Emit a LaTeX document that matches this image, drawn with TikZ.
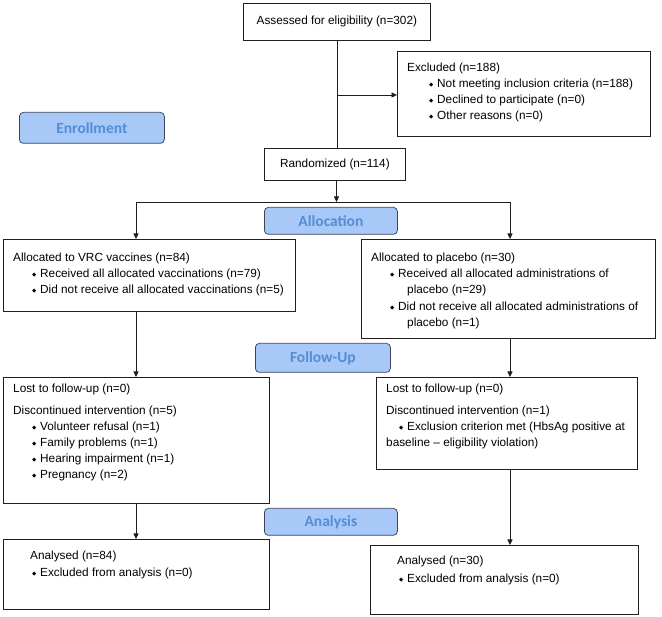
\documentclass[tikz,border=0pt]{standalone}
\usepackage{fontspec}
\setmainfont{Liberation Sans}
\newfontfamily\calibri{Carlito}
\newfontfamily\dvs{DejaVu Sans}
\usetikzlibrary{arrows.meta}
\definecolor{phasefill}{RGB}{168,200,248}
\definecolor{phasetext}{RGB}{84,141,212}
\definecolor{phaseline}{RGB}{60,70,90}
\definecolor{linec}{RGB}{30,30,30}
\newcommand\bul{\makebox[8pt][l]{\raisebox{0.25ex}{\dvs\fontsize{5.5}{6}\selectfont ◆}}}
\begin{document}
\begin{tikzpicture}[x=1pt,y=-1pt,
  box/.style={draw=linec, line width=0.75pt, rectangle, inner sep=0pt, anchor=north west, font=\fontsize{11.8}{14}\selectfont},
  phase/.style={draw=phaseline, fill=phasefill, line width=0.75pt, rounded corners=4pt, rectangle, anchor=north west, inner sep=0pt, font=\calibri\bfseries\fontsize{15.5}{18}\selectfont, text=phasetext},
  txt/.style={anchor=base west, inner sep=0pt, font=\fontsize{11.8}{14}\selectfont},
  arr/.style={draw=linec, line width=0.75pt, -{Triangle[length=5.5pt,width=5pt]}},
  conn/.style={draw=linec, line width=0.75pt}]
\useasboundingbox (0,0) rectangle (662,617);

% phase labels
\node[phase, minimum width=145pt, minimum height=31pt] (enr) at (19,112) {Enrollment};
\node[phase, minimum width=133pt, minimum height=27pt] (alc) at (264,207) {Allocation};
\node[phase, minimum width=135pt, minimum height=29pt] (fup) at (255,343) {Follow-Up};
\node[phase, minimum width=133pt, minimum height=27pt] (ana) at (264,508) {Analysis};

% boxes
\node[box, minimum width=187pt, minimum height=37pt] (assess) at (243,3) {Assessed for eligibility (n=302)};
\node[box, minimum width=253pt, minimum height=85pt] (excl) at (397,51) {};
\node[box, minimum width=141pt, minimum height=32pt] (rand) at (264,148) {Randomized (n=114)};
\node[box, minimum width=292pt, minimum height=72pt] (lalloc) at (3,239) {};
\node[box, minimum width=294pt, minimum height=99pt] (ralloc) at (361,239) {};
\node[box, minimum width=266pt, minimum height=126pt] (lfol) at (3,377) {};
\node[box, minimum width=261pt, minimum height=92pt] (rfol) at (376,377) {};
\node[box, minimum width=266pt, minimum height=70pt] (lana) at (3,539) {};
\node[box, minimum width=268pt, minimum height=69pt] (rana) at (370,545) {};

% excluded text
\node[txt] (ex0) at (407,72) {Excluded (n=188)};
\node[txt] (ex1) at (429,88) {\bul Not meeting inclusion criteria (n=188)};
\node[txt] (ex2) at (429,104) {\bul Declined to participate (n=0)};
\node[txt] (ex3) at (429,120) {\bul Other reasons (n=0)};

% allocation texts
\node[txt] (la0) at (13,262) {Allocated to VRC vaccines (n=84)};
\node[txt] (la1) at (32,278) {\bul Received all allocated vaccinations (n=79)};
\node[txt] (la2) at (32,294) {\bul Did not receive all allocated vaccinations (n=5)};

\node[txt] (ra0) at (371,262) {Allocated to placebo (n=30)};
\node[txt] (ra1) at (390,278) {\bul Received all allocated administrations of};
\node[txt] (ra2) at (407,294) {placebo (n=29)};
\node[txt] (ra3) at (390,311) {\bul Did not receive all allocated administrations of};
\node[txt] (ra4) at (407,327) {placebo (n=1)};

% follow-up texts
\node[txt] (lf0) at (13,393) {Lost to follow-up (n=0)};
\node[txt] (lf1) at (13,415) {Discontinued intervention (n=5)};
\node[txt] (lf2) at (32,431) {\bul Volunteer refusal (n=1)};
\node[txt] (lf3) at (32,447) {\bul Family problems (n=1)};
\node[txt] (lf4) at (32,463) {\bul Hearing impairment (n=1)};
\node[txt] (lf5) at (32,479) {\bul Pregnancy (n=2)};

\node[txt] (rf0) at (386,393) {Lost to follow-up (n=0)};
\node[txt] (rf1) at (386,415) {Discontinued intervention (n=1)};
\node[txt] (rf2) at (399,431) {\bul Exclusion criterion met (HbsAg positive at};
\node[txt] (rf3) at (386,447) {baseline -- eligibility violation)};

% analysis texts
\node[txt] (ln0) at (30,560) {Analysed (n=84)};
\node[txt] (ln1) at (32,577) {\bul Excluded from analysis (n=0)};
\node[txt] (rn0) at (397,565) {Analysed (n=30)};
\node[txt] (rn1) at (399,583) {\bul Excluded from analysis (n=0)};

% connectors
\coordinate (br) at (336.5,95);
\coordinate (split) at (336.5,202);
\coordinate (sl) at (136,202);
\coordinate (sr) at (510,202);
\draw[conn] (assess.south) -- (assess.south |- rand.north);
\draw[arr] (br) -- (br -| excl.west);
\draw[arr] (rand.south -| split) -- (split);
\draw[conn] (sl) -- (sr);
\draw[arr] (sl) -- (sl |- lalloc.north);
\draw[arr] (sr) -- (sr |- ralloc.north);
\draw[arr] (lalloc.south -| sl) -- (lfol.north -| sl);
\draw[arr] (ralloc.south -| sr) -- (rfol.north -| sr);
\draw[arr] (lfol.south -| sl) -- (lana.north -| sl);
\draw[arr] (rfol.south -| sr) -- (rana.north -| sr);
\end{tikzpicture}
\end{document}
